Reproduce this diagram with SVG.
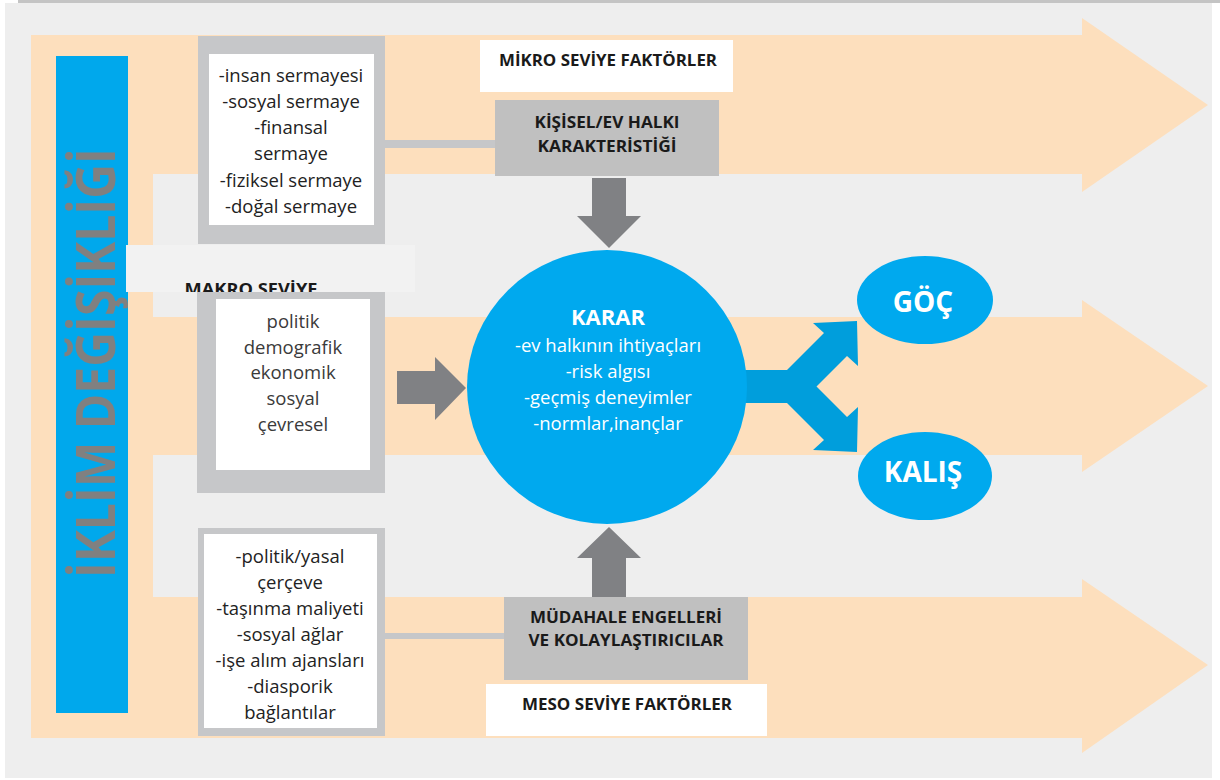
<svg xmlns="http://www.w3.org/2000/svg" width="1220" height="780" viewBox="0 0 1220 780">
<defs>
<style>
.t{font-family:"Open Sans","Noto Sans","DejaVu Sans",sans-serif;}
.box{font-size:18.5px;fill:#222;text-anchor:middle;}
.mac{fill:#3a3a3a;}
.lbl{font-size:16.5px;font-weight:bold;fill:#1a1a1a;text-anchor:middle;}
.wh{fill:#fff;text-anchor:middle;}
.gbox{fill:#c6c7c9;}
.garr{fill:#808184;}
</style>
<clipPath id="mk"><rect x="126" y="245" width="289" height="47"/></clipPath>
</defs>
<rect x="0" y="0" width="1220" height="780" fill="#fff"/>
<rect x="5" y="3" width="1207" height="775" fill="#eeeeee"/>
<rect x="18" y="0" width="1202" height="3" fill="#c4c4c4"/>
<path id="band" d="M31,35 H1082 V18 L1208,105 L1082,192 V174 H153 V317 H1082 V300 L1208,386 L1082,472 V455 H153 V597 H1082 V579 L1208,665 L1082,753 V738 H31 Z" fill="#fddfbd"/>
<g id="connectors">
<rect x="385" y="140" width="112" height="8" class="gbox"/>
<rect x="385" y="633" width="120" height="6" class="gbox"/>
<path class="garr" d="M592,178 H626 V216 H641 L609,248 L577,216 H592 Z"/>
<path class="garr" d="M592,597 H626 V558 H641 L609,527 L577,558 H592 Z"/>
<path class="garr" d="M397,371 H435 V357 L466,388 L435,420 V404 H397 Z"/>
<path fill="#009edc" d="M730,370 H787 L824,333 L813,323 L857,321 L858,366 L847,356 L816.5,386.5 L847,417 L858,407 L857,452 L813,450 L824,440 L787,403 H730 Z"/>
</g>
<g id="iklim">
<rect x="56" y="56" width="72" height="657" fill="#00a8ec"/>
<text class="t" transform="translate(115,363) rotate(-90)" text-anchor="middle" font-size="53" font-weight="bold" fill="#808080" textLength="430" lengthAdjust="spacingAndGlyphs">İKLİM DEĞİŞİKLİĞİ</text>
</g>
<g id="mikro-list">
<rect x="198" y="36" width="187" height="208" class="gbox"/>
<rect x="209" y="54" width="165" height="171" fill="#fff"/>
<text class="t box" x="291" y="82">-insan sermayesi</text>
<text class="t box" x="291" y="108">-sosyal sermaye</text>
<text class="t box" x="291" y="134">-finansal</text>
<text class="t box" x="291" y="160">sermaye</text>
<text class="t box" x="291" y="187">-fiziksel sermaye</text>
<text class="t box" x="291" y="213">-doğal sermaye</text>
</g>
<g id="makro-label">
<rect x="126" y="245" width="289" height="47" fill="#f2f2f2"/>
<text class="t lbl" x="251" y="295" font-size="17" textLength="133" lengthAdjust="spacingAndGlyphs" clip-path="url(#mk)">MAKRO SEVİYE</text>
</g>
<g id="makro-list">
<rect x="197" y="292" width="188" height="201" class="gbox"/>
<rect x="216" y="299" width="154" height="171" fill="#fff"/>
<text class="t box mac" x="293" y="328">politik</text>
<text class="t box mac" x="293" y="354">demografik</text>
<text class="t box mac" x="293" y="379">ekonomik</text>
<text class="t box mac" x="293" y="405">sosyal</text>
<text class="t box mac" x="293" y="431">çevresel</text>
</g>
<g id="meso-list">
<rect x="198" y="528" width="187" height="208" class="gbox"/>
<rect x="204" y="534" width="173" height="194" fill="#fff"/>
<text class="t box" x="290" y="563">-politik/yasal</text>
<text class="t box" x="290" y="589">çerçeve</text>
<text class="t box" x="290" y="615">-taşınma maliyeti</text>
<text class="t box" x="290" y="641">-sosyal ağlar</text>
<text class="t box" x="290" y="667">-işe alım ajansları</text>
<text class="t box" x="290" y="693">-diasporik</text>
<text class="t box" x="290" y="719">bağlantılar</text>
</g>
<g id="mikro-title">
<rect x="480" y="40" width="253" height="52" fill="#fff"/>
<text class="t lbl" x="608" y="66" textLength="218" lengthAdjust="spacingAndGlyphs">MİKRO SEVİYE FAKTÖRLER</text>
</g>
<g id="kisisel">
<rect x="495" y="100" width="224" height="76" fill="#c0c0c0"/>
<text class="t lbl" x="607" y="128" textLength="145" lengthAdjust="spacingAndGlyphs">KİŞİSEL/EV HALKI</text>
<text class="t lbl" x="607" y="152" textLength="139" lengthAdjust="spacingAndGlyphs">KARAKTERİSTİĞİ</text>
</g>
<g id="mudahale">
<rect x="504" y="597" width="244" height="83" fill="#c0c0c0"/>
<text class="t lbl" x="626" y="623" textLength="192" lengthAdjust="spacingAndGlyphs">MÜDAHALE ENGELLERİ</text>
<text class="t lbl" x="626" y="646" textLength="195" lengthAdjust="spacingAndGlyphs">VE KOLAYLAŞTIRICILAR</text>
</g>
<g id="meso-title">
<rect x="486" y="684" width="281" height="52" fill="#fff"/>
<text class="t lbl" x="627" y="710" textLength="210" lengthAdjust="spacingAndGlyphs">MESO SEVİYE FAKTÖRLER</text>
</g>
<g id="karar">
<ellipse cx="607" cy="387" rx="140" ry="137" fill="#00a9ee"/>
<text class="t wh" x="608" y="325" font-size="22" font-weight="bold">KARAR</text>
<text class="t wh" x="608" y="352" font-size="18.5">-ev halkının ihtiyaçları</text>
<text class="t wh" x="608" y="378" font-size="18.5">-risk algısı</text>
<text class="t wh" x="608" y="404" font-size="18.5">-geçmiş deneyimler</text>
<text class="t wh" x="608" y="430" font-size="18.5">-normlar,inançlar</text>
</g>
<g id="goc">
<ellipse cx="925" cy="300" rx="68" ry="44" fill="#00a9ee"/>
<text class="t wh" x="923" y="312" font-size="28" font-weight="bold">GÖÇ</text>
</g>
<g id="kalis">
<ellipse cx="925" cy="476" rx="67" ry="44" fill="#00a9ee"/>
<text class="t wh" x="923" y="482" font-size="28" font-weight="bold">KALIŞ</text>
</g>
</svg>
